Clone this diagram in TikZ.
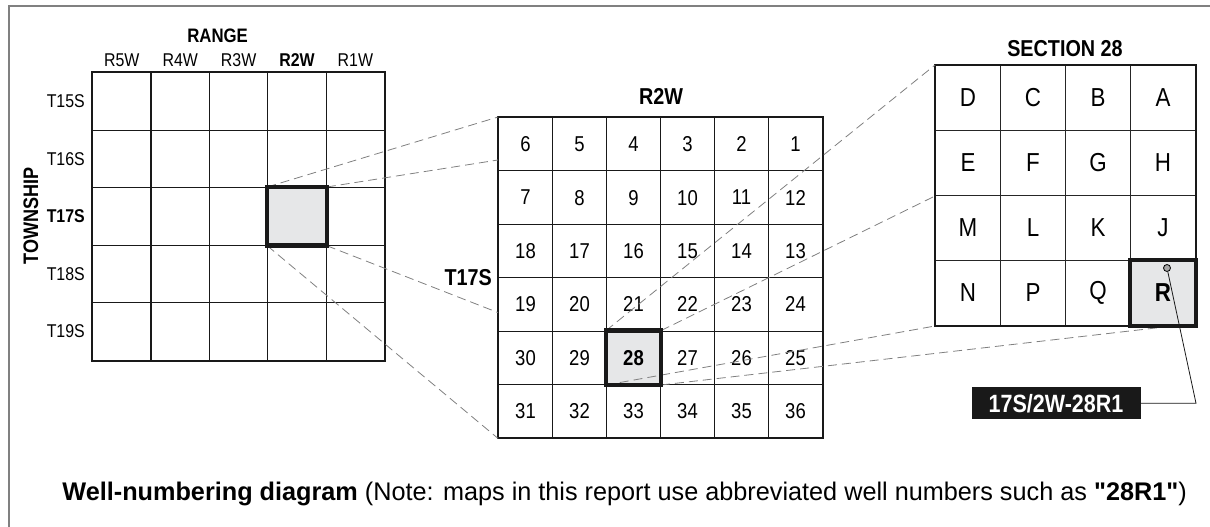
\documentclass[tikz,border=0pt]{standalone}
\usepackage{fontspec}
\setmainfont{Liberation Sans}[FakeStretch=0.86]
\newfontfamily\capfont{Liberation Sans}[Ligatures=TeXOff, FakeStretch=0.99]
\usetikzlibrary{positioning,calc}
\definecolor{cellgray}{RGB}{230,231,232}
\definecolor{leadgray}{RGB}{128,128,128}

\begin{document}
\begin{tikzpicture}[x=1pt,y=-1pt]
    \tikzset{
        twcell/.style = {draw=black!90, line width=1.2pt, minimum width=58.4pt, minimum height=57.5pt, inner sep=0pt, anchor=north west},
        seccell/.style = {draw=black!90, line width=1pt, minimum width=54pt, minimum height=53.4pt, inner sep=0pt, anchor=north west, font=\fontsize{21.5}{21.5}\selectfont},
        qcell/.style = {draw=black!85, line width=1pt, minimum width=65pt, minimum height=65pt, inner sep=0pt, anchor=north west, font=\fontsize{26}{26}\selectfont},
        tw-4-3/.style = {fill=cellgray},
        s28/.style = {fill=cellgray, font=\bfseries\fontsize{21.5}{21.5}\selectfont},
        qR/.style = {fill=cellgray, font=\bfseries\fontsize{26}{26}\selectfont},
        hilite/.style = {draw=black!90, line width=4.5pt},
        lbl/.style = {font=\fontsize{18.5}{18.5}\selectfont, inner sep=0pt},
        lblb/.style = {font=\bfseries\fontsize{19.5}{19.5}\selectfont, inner sep=0pt},
        head/.style = {font=\bfseries\fontsize{23}{23}\selectfont, inner sep=0pt},
        zoomline/.style = {draw=leadgray, line width=0.8pt, dash pattern=on 9pt off 5pt}
    }
    \useasboundingbox (0,0) rectangle (1210,527);
    \draw[leadgray, line width=1.2pt] (9,527) -- (9,6) -- (1210,6);

    \foreach \c in {1,...,5}
        \foreach \r in {1,...,5}
            \node[twcell, tw-\c-\r/.try] (tw-\c-\r) at ({92+58.4*(\c-1)},{72+57.5*(\r-1)}) {};
    \draw[black!90, line width=1.6pt] (tw-1-1.north west) rectangle (tw-5-5.south east);

    \foreach \c/\t in {1/R5W,2/R4W,3/R3W,4/\textbf{R2W},5/R1W}
        \node[lbl, above=5pt of tw-\c-1.north] (rng-\c) {\t};
    \node[lblb, above=11pt of rng-3.north, xshift=-21pt] (range) {RANGE};
    \foreach \r/\t in {1/T15S,2/T16S,3/\textbf{T17S},4/T18S,5/T19S}
        \node[lbl, left=7pt of tw-1-\r.west] (tsp-\r) {\t};
    \node[lblb, font=\bfseries\fontsize{21}{21}\selectfont, rotate=90] (township) at (31,216) {TOWNSHIP};

    \foreach \r in {1,...,6}
        \foreach \c in {1,...,6} {
            \pgfmathtruncatemacro{\n}{isodd(\r) ? 6*(\r-1)+7-\c : 6*(\r-1)+\c}
            \node[seccell, s\n/.try] (s\n) at ({498+54*(\c-1)},{117+53.4*(\r-1)}) {\n};
        }
    \draw[black!90, line width=1.6pt] (s6.north west) rectangle (s36.south east);
    \node[head, above=12pt of s4.north east] (r2w) {R2W};
    \node[head, anchor=east] (t17s) at ($(s19.north west)+(-6,0)$) {T17S};

    \foreach \t [count=\i from 0] in {D,C,B,A,E,F,G,H,M,L,K,J,N,P,Q,R} {
        \pgfmathtruncatemacro{\qc}{mod(\i,4)}
        \pgfmathtruncatemacro{\qr}{div(\i,4)}
        \node[qcell, q\t/.try] (q\t) at ({935+65*\qc},{65+65*\qr}) {\t};
    }
    \draw[black!90, line width=1.6pt] (qD.north west) rectangle (qR.south east);
    \node[head, above=8pt of qB.north west] (sec28) {SECTION 28};

    \draw[zoomline] (tw-4-3.north west) -- (s6.north west);
    \draw[zoomline] (tw-4-3.north east) -- ($(s6.north west)!0.79!(s6.south west)$);
    \draw[zoomline] (tw-4-3.south east) -- ($(s19.north west)!0.65!(s19.south west)$);
    \draw[zoomline] (tw-4-3.south west) -- (s31.south west);

    \draw[zoomline] (s28.north west) -- (qD.north west);
    \draw[zoomline] (s28.north east) -- (qE.south west);
    \draw[zoomline] (s28.south west) -- (qN.south west);
    \draw[zoomline] (s28.south east) -- ($(qR.south)+(10,0)$);

    \draw[hilite] (tw-4-3.north west) rectangle (tw-4-3.south east);
    \draw[hilite] (s28.north west) rectangle (s28.south east);
    \draw[hilite] (qR.north west) rectangle (qR.south east);

    \node[circle, draw=black, fill=leadgray!70, line width=0.8pt, minimum size=7pt, inner sep=0pt] (well) at ($(qR.north)+(4,8)$) {};
    \node[fill=black!90, text=white, font=\bfseries\fontsize{25}{25}\selectfont, minimum width=169pt, minimum height=32pt, inner sep=0pt] (wellno) at (1056,403.3) {17S/2W-28R1};
    \coordinate (bend) at (wellno.east -| qR.east);
    \draw[black!90, line width=0.8pt] (well) -- (bend) -- (wellno.east);

    \node[anchor=base east, inner sep=0pt, font=\capfont\fontsize{25.5}{25.5}\selectfont] (caption) at (1187,500) {\textbf{Well-numbering diagram} (Note: maps in this report use abbreviated well numbers such as \textbf{"28R1"})};
\end{tikzpicture}
\end{document}
